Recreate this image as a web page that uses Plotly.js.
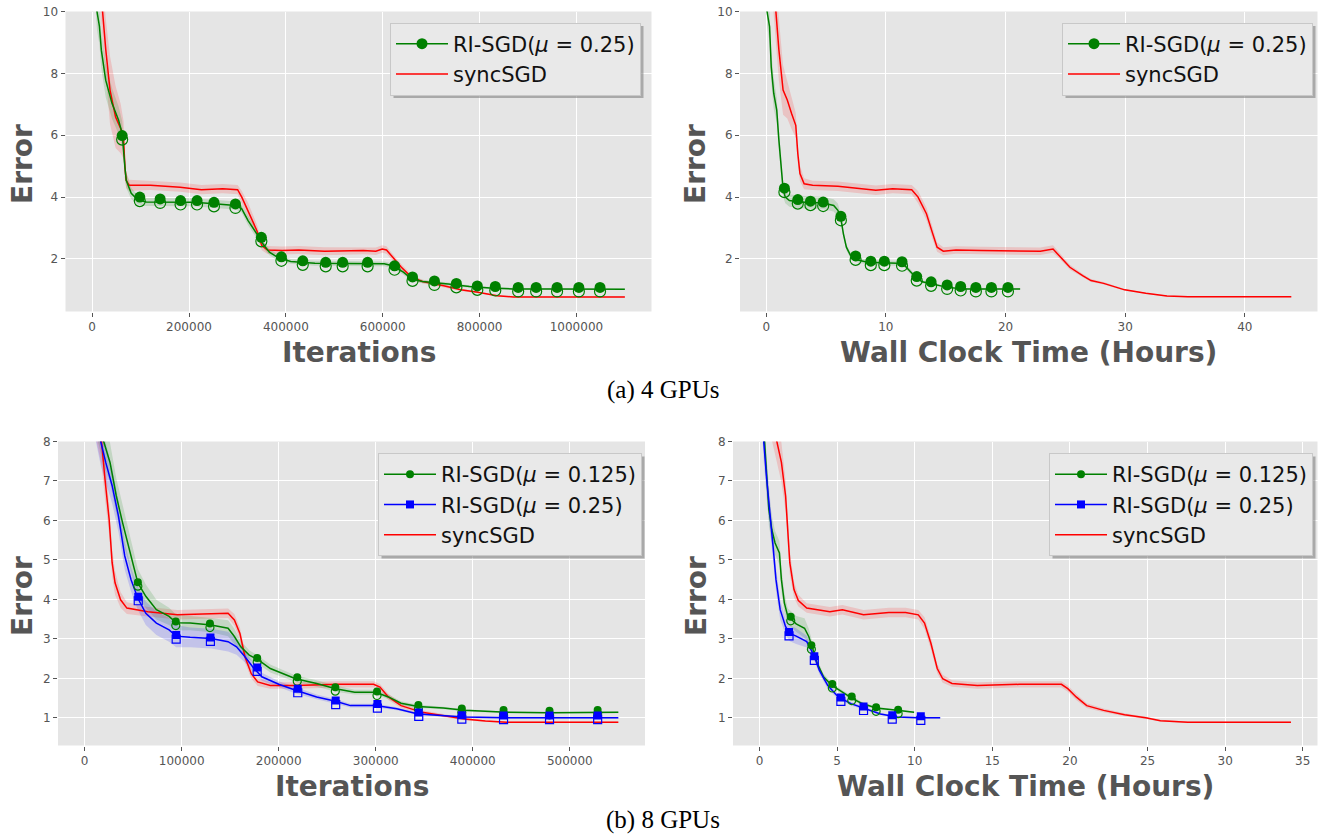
<!DOCTYPE html>
<html>
<head>
<meta charset="utf-8">
<script src="https://cdn.plot.ly/plotly-3.0.1.min.js"></script>
<style>
  html, body { margin: 0; padding: 0; background: #ffffff; }
  #chart { width: 1322px; height: 838px; }
</style>
</head>
<body>
<div id="chart"></div>
<script>
// ---------------- DATA ----------------
// (a) 4 GPUs — Error vs Iterations
const tlGreenX = [0, 10000, 15000, 19000, 28000, 41000, 54500, 62000, 67700, 70400, 80700, 94000, 111600, 164300, 210000, 252000, 296000, 309000, 322000, 340000, 352500, 366000, 383000, 410000, 460000, 520000, 570000, 603000, 620000, 642700, 660000, 682000, 735000, 779000, 822000, 870000, 950000, 1100000];
const tlGreenY = [12.5, 10.0, 9.53, 8.75, 7.78, 7.03, 6.49, 6.06, 4.97, 4.54, 4.12, 3.91, 3.84, 3.84, 3.83, 3.78, 3.73, 3.62, 3.24, 2.81, 2.49, 2.22, 2.05, 1.92, 1.86, 1.85, 1.85, 1.84, 1.78, 1.57, 1.35, 1.27, 1.19, 1.11, 1.06, 1.03, 1.03, 1.02];
const tlGreenStd = [0.6, 0.6, 0.6, 0.6, 0.55, 0.5, 0.45, 0.4, 0.35, 0.25, 0.18, 0.15, 0.13, 0.13, 0.13, 0.13, 0.13, 0.13, 0.15, 0.15, 0.12, 0.1, 0.1, 0.08, 0.08, 0.08, 0.08, 0.08, 0.08, 0.08, 0.07, 0.06, 0.05, 0.04, 0.03, 0.03, 0.02, 0.02];
const tlGreenMarkX = [62000, 98400, 140400, 182600, 216600, 251600, 295900, 349400, 390800, 434900, 482300, 517300, 568800, 624400, 661500, 706800, 752100, 795300, 832400, 879700, 916800, 960000, 1005000, 1048700];
const tlGreenMarkY = [5.94, 3.95, 3.89, 3.84, 3.84, 3.78, 3.73, 2.65, 2.02, 1.89, 1.84, 1.84, 1.84, 1.73, 1.37, 1.24, 1.16, 1.08, 1.06, 1.03, 1.03, 1.03, 1.03, 1.03];
const tlRedX = [0, 22000, 28200, 36900, 48400, 58900, 65000, 67700, 70400, 76500, 120400, 181700, 225700, 269500, 300400, 309000, 322000, 340000, 350400, 362000, 392500, 427000, 480000, 560000, 585800, 599000, 607800, 620800, 638500, 660300, 682000, 726000, 761000, 796500, 836000, 870000, 1100000];
const tlRedY = [14, 10, 8.76, 7.46, 6.59, 6.22, 5.84, 4.97, 4.54, 4.38, 4.38, 4.32, 4.24, 4.27, 4.24, 4.0, 3.57, 2.92, 2.43, 2.29, 2.27, 2.29, 2.25, 2.27, 2.25, 2.32, 2.29, 2.05, 1.73, 1.40, 1.27, 1.13, 1.0, 0.92, 0.81, 0.77, 0.77];
const tlRedStd = [1.0, 1.0, 1.0, 1.1, 1.0, 0.8, 0.6, 0.4, 0.25, 0.18, 0.15, 0.15, 0.15, 0.15, 0.15, 0.2, 0.25, 0.2, 0.15, 0.13, 0.13, 0.13, 0.13, 0.12, 0.12, 0.12, 0.12, 0.1, 0.1, 0.08, 0.06, 0.05, 0.04, 0.03, 0.02, 0.02, 0.02];

// (a) 4 GPUs — Error vs Wall Clock Time (Hours)
const trGreenX = [0, 0.07, 0.28, 0.42, 0.63, 0.88, 1.06, 1.23, 1.41, 1.59, 1.94, 2.82, 3.88, 4.76, 5.64, 5.99, 6.27, 6.45, 6.70, 7.05, 7.58, 8.46, 10.93, 11.46, 11.98, 12.51, 13.04, 14.1, 15.16, 16.57, 21.22];
const trGreenY = [12.5, 10.0, 9.51, 8.21, 7.35, 6.81, 5.84, 4.97, 4.27, 4.0, 3.89, 3.84, 3.82, 3.81, 3.73, 3.57, 3.24, 2.81, 2.38, 2.11, 1.97, 1.89, 1.86, 1.84, 1.62, 1.40, 1.26, 1.16, 1.08, 1.03, 1.03];
const trGreenStd = [0.5, 0.5, 0.5, 0.5, 0.5, 0.4, 0.35, 0.3, 0.25, 0.2, 0.2, 0.2, 0.2, 0.2, 0.2, 0.22, 0.15, 0.12, 0.1, 0.1, 0.08, 0.08, 0.08, 0.08, 0.08, 0.06, 0.05, 0.04, 0.03, 0.02, 0.02];
const trGreenMarkX = [1.52, 2.64, 3.70, 4.76, 6.24, 7.47, 8.74, 9.87, 11.35, 12.58, 13.78, 15.12, 16.25, 17.52, 18.82, 20.20];
const trGreenMarkY = [4.24, 3.87, 3.82, 3.79, 3.33, 2.05, 1.88, 1.88, 1.86, 1.38, 1.21, 1.11, 1.06, 1.03, 1.03, 1.03];
const trRedX = [0, 0.78, 1.06, 1.41, 1.76, 2.12, 2.47, 2.64, 2.82, 3.17, 3.88, 5.99, 8.1, 9.16, 10.57, 12.16, 12.69, 13.39, 13.92, 14.28, 14.80, 15.86, 17.98, 21.15, 22.91, 23.97, 24.5, 25.38, 26.44, 27.14, 28.2, 29.96, 31.72, 33.49, 35.25, 43.88];
const trRedY = [14, 10, 8.76, 7.46, 7.14, 6.70, 6.32, 5.41, 4.76, 4.43, 4.38, 4.35, 4.27, 4.22, 4.27, 4.24, 4.0, 3.46, 2.81, 2.38, 2.25, 2.29, 2.27, 2.27, 2.25, 2.32, 2.11, 1.73, 1.46, 1.30, 1.21, 1.0, 0.89, 0.80, 0.78, 0.78];
const trRedStd = [1, 1, 1, 0.8, 0.6, 0.5, 0.4, 0.3, 0.25, 0.18, 0.15, 0.15, 0.15, 0.15, 0.15, 0.15, 0.2, 0.2, 0.2, 0.15, 0.13, 0.12, 0.12, 0.12, 0.12, 0.12, 0.1, 0.08, 0.06, 0.05, 0.04, 0.03, 0.02, 0.02, 0.02, 0.02];

// (b) 8 GPUs — Error vs Iterations
const blRedX = [0, 17400, 20900, 25200, 28300, 31300, 37000, 43500, 65200, 95600, 121700, 147800, 154300, 160000, 165200, 171700, 178300, 191300, 217400, 260900, 297800, 304300, 313000, 326100, 347800, 369600, 391300, 413000, 434800, 550000];
const blRedY = [10, 8, 7.05, 6.03, 4.93, 4.42, 3.99, 3.78, 3.69, 3.61, 3.63, 3.65, 3.48, 3.14, 2.55, 2.12, 1.91, 1.82, 1.82, 1.85, 1.85, 1.78, 1.53, 1.31, 1.14, 1.06, 0.97, 0.92, 0.89, 0.89];
const blRedStd = [0.6, 0.6, 0.5, 0.4, 0.35, 0.3, 0.2, 0.15, 0.12, 0.12, 0.12, 0.12, 0.15, 0.15, 0.15, 0.12, 0.1, 0.08, 0.08, 0.08, 0.08, 0.08, 0.08, 0.06, 0.05, 0.04, 0.03, 0.02, 0.02, 0.02];
const blGreenX = [0, 19600, 26100, 32600, 39100, 47800, 54800, 63000, 73900, 87000, 94300, 108700, 130400, 147800, 154300, 160900, 169600, 178300, 191300, 217400, 239100, 258700, 278300, 300000, 313000, 326100, 343500, 369600, 391300, 434800, 478300, 550000];
const blGreenY = [10, 8, 7.47, 6.62, 5.94, 5.10, 4.42, 4.08, 3.74, 3.57, 3.41, 3.40, 3.35, 3.27, 3.06, 2.80, 2.59, 2.48, 2.25, 1.99, 1.87, 1.74, 1.65, 1.65, 1.53, 1.37, 1.29, 1.25, 1.19, 1.14, 1.13, 1.14];
const blGreenStd = [0.6, 0.6, 0.5, 0.45, 0.45, 0.4, 0.35, 0.3, 0.25, 0.22, 0.2, 0.18, 0.18, 0.2, 0.2, 0.15, 0.12, 0.1, 0.1, 0.08, 0.08, 0.08, 0.06, 0.06, 0.06, 0.05, 0.04, 0.03, 0.03, 0.02, 0.02, 0.02];
const blGreenMarkX = [54800, 93900, 129100, 177800, 219100, 258300, 301300, 343900, 388700, 431700, 479100, 528700];
const blGreenMarkY = [4.40, 3.40, 3.35, 2.48, 1.99, 1.74, 1.63, 1.29, 1.20, 1.16, 1.14, 1.16];
const blBlueX = [0, 16500, 21700, 28300, 34800, 41300, 47800, 54800, 63000, 73900, 87000, 94300, 108700, 130400, 147800, 156500, 165200, 173900, 182600, 200000, 217400, 239100, 258700, 273900, 300000, 321700, 343500, 369600, 391300, 434800, 550000];
const blBlueY = [10, 8, 7.47, 6.88, 6.11, 5.10, 4.50, 4.03, 3.65, 3.40, 3.23, 3.07, 3.04, 3.01, 2.93, 2.80, 2.55, 2.27, 2.04, 1.85, 1.70, 1.53, 1.42, 1.31, 1.31, 1.23, 1.10, 1.06, 1.02, 1.0, 1.0];
const blBlueStd = [0.6, 0.6, 0.5, 0.45, 0.4, 0.35, 0.3, 0.3, 0.3, 0.3, 0.3, 0.28, 0.25, 0.25, 0.25, 0.2, 0.15, 0.12, 0.1, 0.08, 0.08, 0.06, 0.06, 0.05, 0.05, 0.04, 0.03, 0.03, 0.02, 0.02, 0.02];
const blBlueMarkX = [55200, 94300, 129600, 177800, 219600, 258700, 301700, 344300, 388700, 431700, 479100, 528700];
const blBlueMarkY = [4.03, 3.06, 3.00, 2.24, 1.70, 1.40, 1.31, 1.10, 1.03, 1.02, 1.02, 1.02];

// (b) 8 GPUs — Error vs Wall Clock Time (Hours)
const brRedX = [0, 1.14, 1.41, 1.68, 1.82, 1.95, 2.22, 2.50, 3.04, 4.53, 5.34, 6.70, 8.33, 9.41, 10.23, 10.63, 11.04, 11.45, 11.80, 12.40, 14.03, 16.74, 19.45, 19.86, 20.40, 21.08, 22.17, 23.52, 24.88, 25.83, 27.59, 34.24];
const brRedY = [10, 8, 7.47, 6.62, 5.77, 4.93, 4.25, 3.97, 3.78, 3.69, 3.74, 3.61, 3.67, 3.67, 3.61, 3.40, 2.89, 2.25, 1.99, 1.87, 1.82, 1.85, 1.85, 1.74, 1.53, 1.31, 1.19, 1.08, 1.0, 0.93, 0.89, 0.89];
const brRedStd = [0.6, 0.6, 0.5, 0.4, 0.35, 0.3, 0.2, 0.15, 0.12, 0.12, 0.12, 0.12, 0.12, 0.12, 0.12, 0.15, 0.15, 0.12, 0.1, 0.08, 0.08, 0.08, 0.08, 0.08, 0.08, 0.06, 0.05, 0.04, 0.03, 0.02, 0.02, 0.02];
const brGreenX = [0, 0.33, 0.46, 0.60, 0.79, 1.00, 1.28, 1.41, 1.60, 1.82, 2.09, 2.36, 2.90, 3.17, 3.39, 3.72, 4.12, 4.67, 5.34, 6.02, 6.57, 7.51, 8.87, 9.96];
const brGreenY = [10, 8, 7.05, 6.28, 5.77, 5.43, 5.18, 4.50, 3.91, 3.57, 3.48, 3.38, 3.27, 3.06, 2.80, 2.38, 2.04, 1.82, 1.65, 1.48, 1.37, 1.25, 1.19, 1.14];
const brGreenStd = [0.5, 0.5, 0.5, 0.4, 0.35, 0.3, 0.3, 0.3, 0.25, 0.2, 0.2, 0.2, 0.25, 0.2, 0.15, 0.1, 0.08, 0.06, 0.05, 0.05, 0.04, 0.03, 0.02, 0.02];
const brGreenMarkX = [2.01, 3.34, 4.69, 5.94, 7.51, 8.93];
const brGreenMarkY = [3.52, 2.80, 1.82, 1.50, 1.23, 1.17];
const brBlueX = [0, 0.27, 0.46, 0.68, 0.87, 1.06, 1.33, 1.68, 1.95, 2.36, 3.04, 3.50, 3.85, 4.40, 5.07, 5.89, 6.70, 7.79, 8.87, 10.23, 11.64];
const brBlueY = [10, 8, 7.05, 6.20, 5.35, 4.50, 3.74, 3.31, 3.14, 3.07, 2.93, 2.59, 2.21, 1.82, 1.53, 1.36, 1.25, 1.10, 1.02, 1.0, 1.0];
const brBlueStd = [0.5, 0.5, 0.5, 0.4, 0.35, 0.3, 0.25, 0.2, 0.2, 0.2, 0.15, 0.12, 0.1, 0.08, 0.06, 0.05, 0.04, 0.03, 0.02, 0.02, 0.02];
const brBlueMarkX = [1.90, 3.53, 5.24, 6.70, 8.55, 10.39];
const brBlueMarkY = [3.14, 2.52, 1.48, 1.25, 1.03, 1.00];

// tick values / labels
const topYTicks = [2, 4, 6, 8, 10];
const botYTicks = [1, 2, 3, 4, 5, 6, 7, 8];
const nameSync = 'syncSGD';
const nameRI25 = 'RI-SGD(<i>μ</i> = 0.25)';
const nameRI125 = 'RI-SGD(<i>μ</i> = 0.125)';
const xTitleIter = 'Iterations';
const xTitleTime = 'Wall Clock Time (Hours)';
const yTitle = 'Error';
const captionA = '(a) 4 GPUs';
const captionB = '(b) 8 GPUs';

// ---------------- STYLE / LAYOUT ----------------
const W = 1322, H = 838;
const GREEN = '#008000', RED = '#ff0000', BLUE = '#0000ff';
const px2fx = p => p / W;
const px2fy = p => 1 - p / H;
// plot boxes in pixels [left, right, top, bottom]
const boxes = {
  tl: [65.5, 651.5, 11.5, 311.5],
  tr: [740, 1317.5, 11.5, 311.5],
  bl: [58, 645, 441.5, 745.5],
  br: [733, 1317.5, 441.5, 745.5]
};
const ranges = {
  tl: { x: [-55000, 1155000], y: [0.3, 10] },
  tr: { x: [-2.19, 46.07], y: [0.3, 10] },
  bl: { x: [-27500, 577500], y: [0.3, 8] },
  br: { x: [-1.71, 35.95], y: [0.3, 8] }
};
const axisIds = { tl: ['x', 'y'], tr: ['x2', 'y2'], bl: ['x3', 'y3'], br: ['x4', 'y4'] };

function pxToDataY(key, p) {
  const b = boxes[key], r = ranges[key].y;
  return p * (r[1] - r[0]) / (b[3] - b[2]);
}

const traces = [];

function addBand(key, xs, ys, sd, color, alpha) {
  const [xa, ya] = axisIds[key];
  const s = i => sd[Math.min(i, sd.length - 1)];
  const lo = ys.map((v, i) => v - s(i));
  const hi = ys.map((v, i) => v + s(i));
  traces.push({ x: xs, y: lo, xaxis: xa, yaxis: ya, mode: 'lines', line: { width: 0, color: color }, hoverinfo: 'skip', showlegend: false });
  traces.push({ x: xs, y: hi, xaxis: xa, yaxis: ya, mode: 'lines', line: { width: 0, color: color }, fill: 'tonexty', fillcolor: color.replace('rgb', 'rgba').replace(')', ',' + alpha + ')'), hoverinfo: 'skip', showlegend: false });
}
function addLine(key, xs, ys, color, width) {
  const [xa, ya] = axisIds[key];
  traces.push({ x: xs, y: ys, xaxis: xa, yaxis: ya, mode: 'lines', line: { color: color, width: width || 1.5 }, showlegend: false });
}
function addHalfMarkers(key, xs, ys, color, symbol, size) {
  const [xa, ya] = axisIds[key];
  const up = pxToDataY(key, 1.5), dn = pxToDataY(key, 2.5);
  traces.push({ x: xs, y: ys.map(v => v - dn), xaxis: xa, yaxis: ya, mode: 'markers', marker: { symbol: symbol + '-open', size: size, color: color, line: { width: 1.2, color: color } }, showlegend: false });
  traces.push({ x: xs, y: ys.map(v => v + up), xaxis: xa, yaxis: ya, mode: 'markers', marker: { symbol: symbol, size: size, color: color, line: { width: 0 } }, showlegend: false });
}
function addLegendEntry(legend, name, color, symbol, size) {
  const t = { x: [null], y: [null], name: name, legend: legend, showlegend: true, line: { color: color, width: 1.5 } };
  if (symbol) { t.mode = 'lines+markers'; t.marker = { symbol: symbol, size: size, color: color }; }
  else { t.mode = 'lines'; }
  traces.push(t);
}

const RGB_RED = 'rgb(255,0,0)', RGB_GREEN = 'rgb(0,128,0)', RGB_BLUE = 'rgb(0,0,255)';

// TL
addBand('tl', tlRedX, tlRedY, tlRedStd, RGB_RED, 0.15);
addBand('tl', tlGreenX, tlGreenY, tlGreenStd, RGB_GREEN, 0.15);
addLine('tl', tlRedX, tlRedY, RED);
addLine('tl', tlGreenX, tlGreenY, GREEN);
addHalfMarkers('tl', tlGreenMarkX, tlGreenMarkY, GREEN, 'circle', 11);
// TR
addBand('tr', trRedX, trRedY, trRedStd, RGB_RED, 0.15);
addBand('tr', trGreenX, trGreenY, trGreenStd, RGB_GREEN, 0.15);
addLine('tr', trRedX, trRedY, RED);
addLine('tr', trGreenX, trGreenY, GREEN);
addHalfMarkers('tr', trGreenMarkX, trGreenMarkY, GREEN, 'circle', 11);
// BL
addBand('bl', blRedX, blRedY, blRedStd, RGB_RED, 0.15);
addBand('bl', blGreenX, blGreenY, blGreenStd, RGB_GREEN, 0.15);
addBand('bl', blBlueX, blBlueY, blBlueStd, RGB_BLUE, 0.15);
addLine('bl', blRedX, blRedY, RED);
addLine('bl', blGreenX, blGreenY, GREEN);
addLine('bl', blBlueX, blBlueY, BLUE);
addHalfMarkers('bl', blGreenMarkX, blGreenMarkY, GREEN, 'circle', 8);
addHalfMarkers('bl', blBlueMarkX, blBlueMarkY, BLUE, 'square', 8);
// BR
addBand('br', brRedX, brRedY, brRedStd, RGB_RED, 0.15);
addBand('br', brGreenX, brGreenY, brGreenStd, RGB_GREEN, 0.15);
addBand('br', brBlueX, brBlueY, brBlueStd, RGB_BLUE, 0.15);
addLine('br', brRedX, brRedY, RED);
addLine('br', brGreenX, brGreenY, GREEN);
addLine('br', brBlueX, brBlueY, BLUE);
addHalfMarkers('br', brGreenMarkX, brGreenMarkY, GREEN, 'circle', 8);
addHalfMarkers('br', brBlueMarkX, brBlueMarkY, BLUE, 'square', 8);

// legends
addLegendEntry('legend', nameRI25, GREEN, 'circle', 11);
addLegendEntry('legend', nameSync, RED);
addLegendEntry('legend2', nameRI25, GREEN, 'circle', 11);
addLegendEntry('legend2', nameSync, RED);
addLegendEntry('legend3', nameRI125, GREEN, 'circle', 8);
addLegendEntry('legend3', nameRI25, BLUE, 'square', 8);
addLegendEntry('legend3', nameSync, RED);
addLegendEntry('legend4', nameRI125, GREEN, 'circle', 8);
addLegendEntry('legend4', nameRI25, BLUE, 'square', 8);
addLegendEntry('legend4', nameSync, RED);

const tickFont = { family: 'DejaVu Sans', size: 12, color: '#555555' };
function xAxis(key, dtick, fmt) {
  const b = boxes[key];
  return {
    domain: [px2fx(b[0]), px2fx(b[1])], anchor: axisIds[key][1], range: ranges[key].x,
    dtick: dtick, tick0: 0, tickformat: fmt, showgrid: true, gridcolor: '#ffffff', gridwidth: 1,
    zeroline: false, showline: false, ticks: 'outside', ticklen: 4, tickcolor: '#555555', tickwidth: 1,
    tickfont: tickFont, automargin: false, fixedrange: true
  };
}
function yAxis(key, ticks) {
  const b = boxes[key];
  return {
    domain: [px2fy(b[3]), px2fy(b[2])], anchor: axisIds[key][0], range: ranges[key].y,
    tickvals: ticks, ticktext: ticks.map(String), showgrid: true, gridcolor: '#ffffff', gridwidth: 1,
    zeroline: false, showline: false, ticks: 'outside', ticklen: 4, tickcolor: '#555555', tickwidth: 1,
    tickfont: tickFont, automargin: false, fixedrange: true
  };
}
function legendAt(rightPx, topPx) {
  return {
    x: px2fx(rightPx), y: px2fy(topPx), xanchor: 'right', yanchor: 'top', xref: 'paper', yref: 'paper',
    bgcolor: '#e9e9e9', bordercolor: '#c8c8c8', borderwidth: 1, traceorder: 'normal',
    font: { family: 'DejaVu Sans', size: 21, color: '#111111' }, itemwidth: 52, tracegroupgap: 0
  };
}
const titleFont = { family: 'DejaVu Sans', size: 28, color: '#555555', weight: 'bold' };
function ann(text, xPx, yPx, font, angle) {
  return { text: text, x: px2fx(xPx), y: px2fy(yPx), xref: 'paper', yref: 'paper', xanchor: 'center', yanchor: 'middle', showarrow: false, font: font, textangle: angle || 0 };
}
const capFont = { family: 'Liberation Serif', size: 25, color: '#000000' };
const annotations = [
  ann('<b>' + xTitleIter + '</b>', 358.5, 352, titleFont),
  ann('<b>' + xTitleTime + '</b>', 1028.5, 352, titleFont),
  ann('<b>' + xTitleIter + '</b>', 351.5, 786, titleFont),
  ann('<b>' + xTitleTime + '</b>', 1025, 786, titleFont),
  ann('<b>' + yTitle + '</b>', 22, 164, titleFont, -90),
  ann('<b>' + yTitle + '</b>', 695, 164, titleFont, -90),
  ann('<b>' + yTitle + '</b>', 22, 596, titleFont, -90),
  ann('<b>' + yTitle + '</b>', 696, 596, titleFont, -90),
  ann(captionA, 663, 390, capFont),
  ann(captionB, 663, 820, capFont)
];

const layout = {
  width: W, height: H, margin: { l: 0, r: 0, t: 0, b: 0 },
  paper_bgcolor: '#ffffff', plot_bgcolor: '#e5e5e5',
  xaxis: xAxis('tl', 200000, 'd'), yaxis: yAxis('tl', topYTicks),
  xaxis2: xAxis('tr', 10, 'd'), yaxis2: yAxis('tr', topYTicks),
  xaxis3: xAxis('bl', 100000, 'd'), yaxis3: yAxis('bl', botYTicks),
  xaxis4: xAxis('br', 5, 'd'), yaxis4: yAxis('br', botYTicks),
  legend: legendAt(641, 22.5), legend2: legendAt(1313, 22.5),
  legend3: legendAt(642, 453), legend4: legendAt(1313, 453),
  annotations: annotations, showlegend: true, hovermode: false
};

Plotly.newPlot('chart', traces, layout, { displayModeBar: false, staticPlot: true }).then(gd => {
  // soft drop shadow behind each legend box
  const root = gd.getBoundingClientRect();
  const shapes = [];
  gd.querySelectorAll('.infolayer > g').forEach(g => {
    const cls = g.getAttribute('class') || '';
    if (!/^legend\d*$/.test(cls)) return;
    const bg = g.querySelector('rect.bg');
    if (!bg) return;
    const r = bg.getBoundingClientRect();
    const l = r.left - root.left + 3, t = r.top - root.top + 3;
    shapes.push({ type: 'rect', xref: 'paper', yref: 'paper', layer: 'above',
      x0: px2fx(l), x1: px2fx(l + r.width), y0: px2fy(t + r.height), y1: px2fy(t),
      fillcolor: 'rgba(120,120,120,0.55)', line: { width: 0 } });
  });
  if (shapes.length) Plotly.relayout(gd, { shapes: shapes });
});
</script>
</body>
</html>
